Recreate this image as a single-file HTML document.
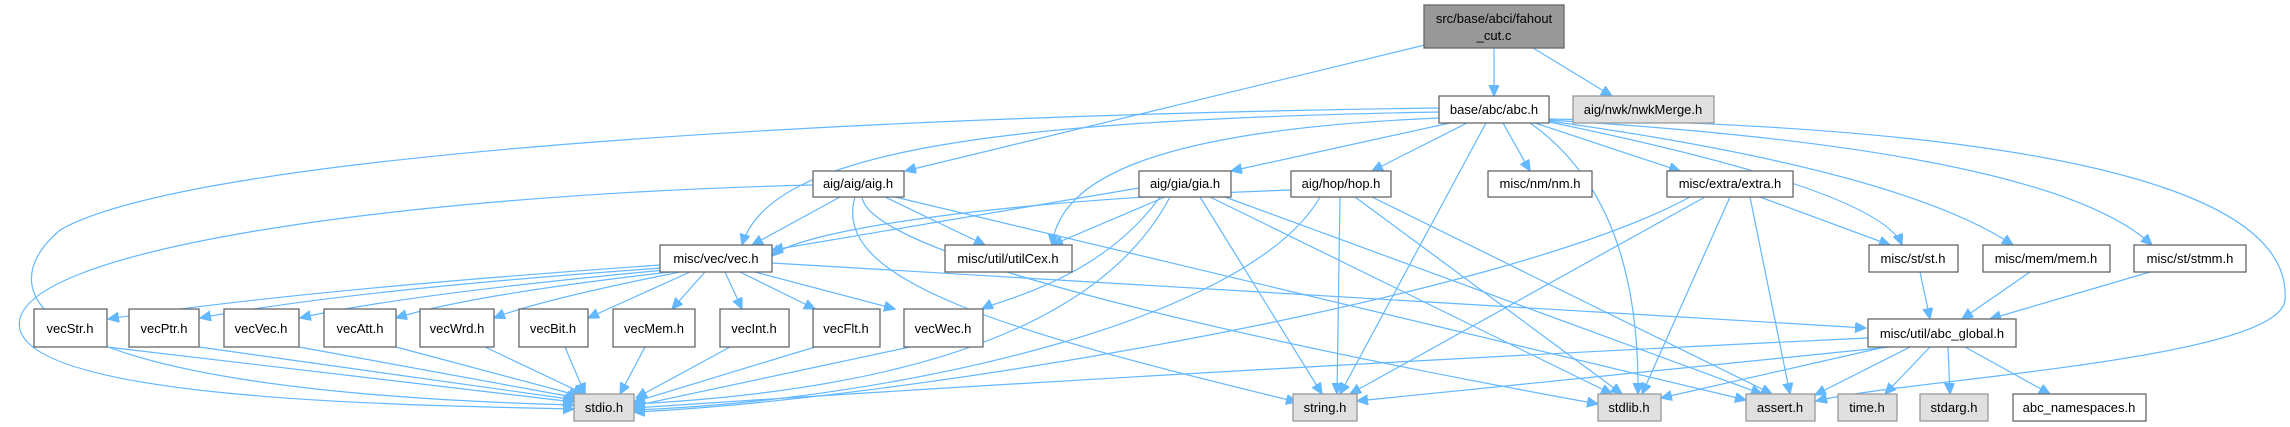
<!DOCTYPE html>
<html><head><meta charset="utf-8"><style>
html,body{margin:0;padding:0;background:#fff;}
svg{display:block;}
text{font-family:"Liberation Sans",Arial,sans-serif;font-size:13px;fill:#000;text-anchor:middle;}
.n{fill:#fff;stroke:#666;stroke-width:1.3;}
.g{fill:#e0e0e0;stroke:#999;stroke-width:1.3;}
.r{fill:#999;stroke:#666;stroke-width:1.3;}
path{fill:none;stroke:#63b8ff;stroke-width:1.2;marker-end:url(#a);}
</style></head><body>
<svg width="2290" height="427" viewBox="0 0 2290 427" xmlns="http://www.w3.org/2000/svg">
<defs><marker id="a" markerUnits="userSpaceOnUse" markerWidth="12" markerHeight="12" refX="11" refY="5" orient="auto"><path d="M0,0 L11,5 L0,10 z" style="fill:#63b8ff;stroke:#63b8ff;marker-end:none"/></marker></defs>
<!-- edges -->
<path d="M1494 48 L1494 96"/>
<path d="M1533 48 L1612 96"/>
<path d="M1425 45 L905 171"/>
<path d="M1439 108 C900 115 200 150 60 230 C-10 290 10 390 574 405"/>
<path d="M1439 112 C1000 120 770 150 742 245"/>
<path d="M1450 123 L1231 171"/>
<path d="M1467 123 L1372 171"/>
<path d="M1503 123 L1530 171"/>
<path d="M1535 123 L1680 171"/>
<path d="M1486 123 L1340 394"/>
<path d="M1530 123 Q1640 200 1638 394"/>
<path d="M1440 118 C1150 130 1060 180 1052 245"/>
<path d="M1549 122 Q1880 190 1902 245"/>
<path d="M1549 121 Q1900 170 2013 245"/>
<path d="M1549 120 Q2050 150 2152 245"/>
<path d="M1549 119 C2200 130 2290 230 2285 300 C2280 360 1900 380 1816 401"/>
<path d="M813 185 C400 195 0 250 20 330 C40 400 400 405 574 409"/>
<path d="M840 197 L752 245"/>
<path d="M885 197 L985 245"/>
<path d="M855 197 C830 280 1000 330 1297 402"/>
<path d="M862 197 C870 260 1300 350 1598 404"/>
<path d="M895 197 L1746 400"/>
<path d="M1139 188 L772 250"/>
<path d="M1165 197 L1052 245"/>
<path d="M1160 197 C1100 280 1000 300 982 309"/>
<path d="M1170 197 C1100 330 900 390 634 404"/>
<path d="M1200 197 L1322 394"/>
<path d="M1210 197 L1612 394"/>
<path d="M1225 197 L1762 394"/>
<path d="M1291 190 C1000 200 800 230 772 256"/>
<path d="M1320 197 C1250 320 900 400 634 410"/>
<path d="M1340 197 L1337 394"/>
<path d="M1355 197 L1622 394"/>
<path d="M1372 197 L1772 394"/>
<path d="M1690 197 C1500 300 900 400 634 412"/>
<path d="M1705 197 L1350 394"/>
<path d="M1730 197 L1642 394"/>
<path d="M1750 197 L1790 394"/>
<path d="M1760 197 L1890 245"/>
<path d="M660 265 Q300 290 108 319"/>
<path d="M662 268 Q350 290 200 318"/>
<path d="M665 270 Q400 295 300 318"/>
<path d="M670 272 Q470 295 396 318"/>
<path d="M680 272 Q540 300 494 318"/>
<path d="M690 272 L588 318"/>
<path d="M705 272 L672 309"/>
<path d="M725 272 L742 309"/>
<path d="M740 272 L815 309"/>
<path d="M755 272 L895 309"/>
<path d="M772 263 L1866 328"/>
<path d="M107 347 L574 402"/>
<path d="M199 347 L576 400"/>
<path d="M299 347 L578 398"/>
<path d="M396 347 L580 396"/>
<path d="M485 347 L584 394"/>
<path d="M565 347 L585 394"/>
<path d="M645 347 L620 394"/>
<path d="M730 347 L636 398"/>
<path d="M815 347 L634 402"/>
<path d="M910 347 L634 406"/>
<path d="M1920 272 L1930 319"/>
<path d="M2030 272 L1962 319"/>
<path d="M2150 272 L1990 319"/>
<path d="M1868 338 C1400 360 900 390 634 408"/>
<path d="M1890 347 L1357 401"/>
<path d="M1885 347 L1661 398"/>
<path d="M1910 347 L1815 395"/>
<path d="M1930 347 L1885 394"/>
<path d="M1948 347 L1950 394"/>
<path d="M1965 347 L2050 394"/>
<!-- nodes -->
<rect class="r" x="1424" y="5" width="140" height="43"/><text x="1494" y="23">src/base/abci/fahout</text><text x="1494" y="40">_cut.c</text>
<rect class="n" x="1439" y="96" width="110" height="27"/><text x="1494" y="114">base/abc/abc.h</text>
<rect class="g" x="1573" y="96" width="141" height="27"/><text x="1643" y="114">aig/nwk/nwkMerge.h</text>
<rect class="n" x="813" y="171" width="91" height="26"/><text x="858" y="188">aig/aig/aig.h</text>
<rect class="n" x="1139" y="171" width="92" height="26"/><text x="1185" y="188">aig/gia/gia.h</text>
<rect class="n" x="1291" y="171" width="100" height="26"/><text x="1341" y="188">aig/hop/hop.h</text>
<rect class="n" x="1488" y="171" width="104" height="26"/><text x="1540" y="188">misc/nm/nm.h</text>
<rect class="n" x="1667" y="171" width="126" height="26"/><text x="1730" y="188">misc/extra/extra.h</text>
<rect class="n" x="660" y="245" width="112" height="27"/><text x="716" y="263">misc/vec/vec.h</text>
<rect class="n" x="945" y="245" width="127" height="27"/><text x="1008" y="263">misc/util/utilCex.h</text>
<rect class="n" x="1869" y="245" width="89" height="27"/><text x="1913" y="263">misc/st/st.h</text>
<rect class="n" x="1983" y="245" width="127" height="27"/><text x="2046" y="263">misc/mem/mem.h</text>
<rect class="n" x="2134" y="245" width="112" height="27"/><text x="2190" y="263">misc/st/stmm.h</text>
<rect class="n" x="34" y="309" width="73" height="38"/><text x="70" y="333">vecStr.h</text>
<rect class="n" x="129" y="309" width="70" height="38"/><text x="164" y="333">vecPtr.h</text>
<rect class="n" x="224" y="309" width="75" height="38"/><text x="261" y="333">vecVec.h</text>
<rect class="n" x="324" y="309" width="72" height="38"/><text x="360" y="333">vecAtt.h</text>
<rect class="n" x="420" y="309" width="74" height="38"/><text x="457" y="333">vecWrd.h</text>
<rect class="n" x="519" y="309" width="69" height="38"/><text x="553" y="333">vecBit.h</text>
<rect class="n" x="613" y="309" width="82" height="38"/><text x="654" y="333">vecMem.h</text>
<rect class="n" x="720" y="309" width="69" height="38"/><text x="754" y="333">vecInt.h</text>
<rect class="n" x="813" y="309" width="67" height="38"/><text x="846" y="333">vecFlt.h</text>
<rect class="n" x="904" y="309" width="79" height="38"/><text x="943" y="333">vecWec.h</text>
<rect class="n" x="1868" y="319" width="148" height="28"/><text x="1942" y="338">misc/util/abc_global.h</text>
<rect class="g" x="574" y="394" width="60" height="27"/><text x="604" y="412">stdio.h</text>
<rect class="g" x="1293" y="394" width="64" height="27"/><text x="1325" y="412">string.h</text>
<rect class="g" x="1598" y="394" width="63" height="27"/><text x="1629" y="412">stdlib.h</text>
<rect class="g" x="1746" y="394" width="69" height="27"/><text x="1780" y="412">assert.h</text>
<rect class="g" x="1838" y="394" width="59" height="27"/><text x="1867" y="412">time.h</text>
<rect class="g" x="1920" y="394" width="68" height="27"/><text x="1954" y="412">stdarg.h</text>
<rect class="n" x="2013" y="394" width="133" height="27"/><text x="2079" y="412">abc_namespaces.h</text>
</svg>
</body></html>
